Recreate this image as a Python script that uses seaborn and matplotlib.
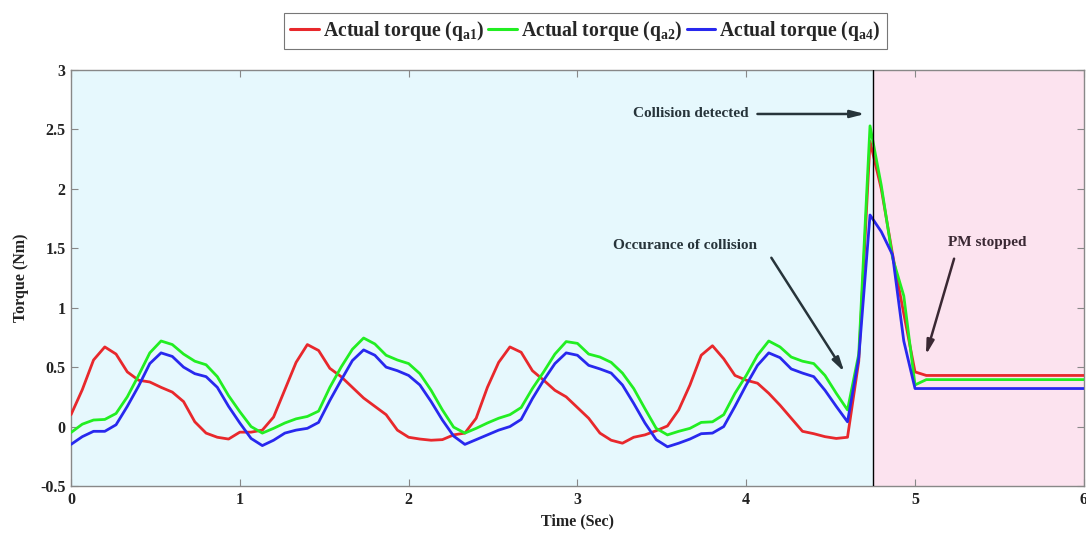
import numpy as np
import pandas as pd
import matplotlib
matplotlib.use("Agg")
import matplotlib.pyplot as plt
import seaborn as sns
from matplotlib.lines import Line2D

# ---------------- data ----------------
time_s = np.round(np.arange(91) / 15.0, 5)

torque_a1 = [0.10, 0.31, 0.56, 0.67, 0.61, 0.46, 0.39, 0.375, 0.33, 0.29,
             0.21, 0.04, -0.055, -0.09, -0.105, -0.047, -0.047, -0.03, 0.08, 0.31,
             0.54, 0.69, 0.64, 0.49, 0.42, 0.33, 0.24, 0.17, 0.10, -0.03,
             -0.09, -0.105, -0.115, -0.11, -0.07, -0.055, 0.07, 0.33, 0.54, 0.67,
             0.625, 0.47, 0.39, 0.305, 0.25, 0.16, 0.07, -0.055, -0.115, -0.14,
             -0.09, -0.07, -0.035, 0.005, 0.14, 0.35, 0.60, 0.68, 0.57, 0.43,
             0.39, 0.365, 0.28, 0.18, 0.07, -0.04, -0.06, -0.085, -0.10, -0.09,
             0.55, 2.40, 2.00, 1.45, 0.95, 0.46, 0.43, 0.43, 0.43, 0.43,
             0.43, 0.43, 0.43, 0.43, 0.43, 0.43, 0.43, 0.43, 0.43, 0.43,
             0.43]

torque_a2 = [-0.05, 0.02, 0.055, 0.06, 0.11, 0.25, 0.43, 0.62, 0.72, 0.69,
             0.61, 0.55, 0.52, 0.42, 0.26, 0.125, 0.0, -0.055, -0.015, 0.03,
             0.065, 0.085, 0.13, 0.33, 0.50, 0.65, 0.745, 0.695, 0.60, 0.56,
             0.53, 0.445, 0.305, 0.14, -0.005, -0.055, -0.015, 0.03, 0.07, 0.10,
             0.16, 0.32, 0.46, 0.61, 0.715, 0.70, 0.61, 0.585, 0.54, 0.45,
             0.32, 0.15, -0.015, -0.07, -0.04, -0.015, 0.035, 0.04, 0.10, 0.28,
             0.43, 0.60, 0.72, 0.67, 0.585, 0.55, 0.53, 0.43, 0.28, 0.14,
             0.61, 2.53, 2.03, 1.42, 1.10, 0.35, 0.395, 0.395, 0.395, 0.395,
             0.395, 0.395, 0.395, 0.395, 0.395, 0.395, 0.395, 0.395, 0.395, 0.395,
             0.395]

torque_a4 = [-0.15, -0.085, -0.04, -0.04, 0.015, 0.17, 0.34, 0.53, 0.62, 0.59,
             0.50, 0.445, 0.42, 0.33, 0.17, 0.03, -0.10, -0.16, -0.115, -0.055,
             -0.03, -0.015, 0.035, 0.22, 0.39, 0.555, 0.645, 0.60, 0.50, 0.47,
             0.43, 0.35, 0.21, 0.055, -0.08, -0.15, -0.11, -0.07, -0.03, 0.0,
             0.06, 0.235, 0.39, 0.53, 0.62, 0.60, 0.515, 0.485, 0.45, 0.35,
             0.195, 0.03, -0.11, -0.17, -0.14, -0.105, -0.06, -0.055, 0.0, 0.17,
             0.35, 0.515, 0.62, 0.58, 0.485, 0.45, 0.42, 0.305, 0.17, 0.04,
             0.58, 1.78, 1.64, 1.445, 0.72, 0.32, 0.32, 0.32, 0.32, 0.32,
             0.32, 0.32, 0.32, 0.32, 0.32, 0.32, 0.32, 0.32, 0.32, 0.32,
             0.32]

series_labels = [r"Actual torque (q$_{\mathbf{a1}}$)",
                 r"Actual torque (q$_{\mathbf{a2}}$)",
                 r"Actual torque (q$_{\mathbf{a4}}$)"]
series_colors = ["#E8282C", "#22EE22", "#2828EE"]

x_ticks = [0, 1, 2, 3, 4, 5, 6]
y_ticks = [-0.5, 0, 0.5, 1, 1.5, 2, 2.5, 3]
y_ticklabels = ["-0.5", "0", "0.5", "1", "1.5", "2", "2.5", "3"]

collision_time = 4.75

# ---------------- style ----------------
sns.set_theme(style="ticks")
plt.rcParams["font.family"] = ["Liberation Serif", "DejaVu Serif"]
plt.rcParams["font.weight"] = "bold"
plt.rcParams["mathtext.fontset"] = "custom"
plt.rcParams["mathtext.rm"] = "Liberation Serif:bold"
plt.rcParams["mathtext.bf"] = "Liberation Serif:bold"
plt.rcParams["mathtext.it"] = "Liberation Serif:bold"

df = pd.concat([
    pd.DataFrame({"Time": time_s, "Torque": torque_a1, "Series": series_labels[0]}),
    pd.DataFrame({"Time": time_s, "Torque": torque_a2, "Series": series_labels[1]}),
    pd.DataFrame({"Time": time_s, "Torque": torque_a4, "Series": series_labels[2]}),
], ignore_index=True)

fig = plt.figure(figsize=(10.86, 5.36), dpi=100)
ax = fig.add_axes([0.0654, 0.0933, 0.9326, 0.7761])

ax.axvspan(0, collision_time, color="#E6F8FD", zorder=0, lw=0)
ax.axvspan(collision_time, 6, color="#FCE3EF", zorder=0, lw=0)

sns.lineplot(data=df, x="Time", y="Torque", hue="Series",
             palette=dict(zip(series_labels, series_colors)),
             linewidth=2.0, ax=ax, legend=False, zorder=3)

ax.axvline(collision_time, color="black", lw=1.0, zorder=4)

ax.set_xlim(0, 6)
ax.set_ylim(-0.5, 3)
ax.set_xticks(x_ticks)
ax.set_yticks(y_ticks)
ax.set_yticklabels(y_ticklabels)
ax.tick_params(direction="in", top=True, right=True, length=5, width=0.8,
               color="#888888", labelsize=11.5, pad=4)
for lab in ax.get_xticklabels() + ax.get_yticklabels():
    lab.set_fontweight("bold")
    lab.set_color("#222222")
for sp in ax.spines.values():
    sp.set_color("#888888")
    sp.set_linewidth(1.0)

ax.set_xlabel("Time (Sec)", fontsize=11.5, fontweight="bold", color="#222222", labelpad=4)
ax.set_ylabel("Torque (Nm)", fontsize=11.5, fontweight="bold", color="#222222", labelpad=8)

# legend
handles = [Line2D([0], [0], color=c, lw=2.2) for c in series_colors]
leg = ax.legend(handles, series_labels, loc="center", bbox_to_anchor=(0.508, 1.094),
                ncol=3, frameon=True, fancybox=False, fontsize=14.2,
                handlelength=1.45, handletextpad=0.2, columnspacing=0.2,
                borderpad=0.3, borderaxespad=0)
leg.get_frame().set_edgecolor("#555555")
leg.get_frame().set_linewidth(0.8)
for t in leg.get_texts():
    t.set_fontweight("bold")

# annotations
ann_color = "#27343A"
ax.text(3.67, 2.63, "Collision detected", ha="center", va="center",
        fontsize=11, fontweight="bold", color=ann_color)
ax.annotate("", xy=(4.72, 2.63), xytext=(4.05, 2.63),
            arrowprops=dict(arrowstyle="-|>,head_length=0.7,head_width=0.18",
                            color=ann_color, lw=1.8))

ax.text(3.64, 1.52, "Occurance of collision", ha="center", va="center",
        fontsize=11, fontweight="bold", color=ann_color)
ax.annotate("", xy=(4.59, 0.44), xytext=(4.14, 1.44),
            arrowprops=dict(arrowstyle="-|>,head_length=0.7,head_width=0.18",
                            color=ann_color, lw=1.8))

pm_color = "#3A2833"
ax.text(5.43, 1.55, "PM stopped", ha="center", va="center",
        fontsize=11, fontweight="bold", color=pm_color)
ax.annotate("", xy=(5.06, 0.58), xytext=(5.236, 1.435),
            arrowprops=dict(arrowstyle="-|>,head_length=0.7,head_width=0.18",
                            color=pm_color, lw=1.8))

fig.savefig("out.png", dpi=100)
